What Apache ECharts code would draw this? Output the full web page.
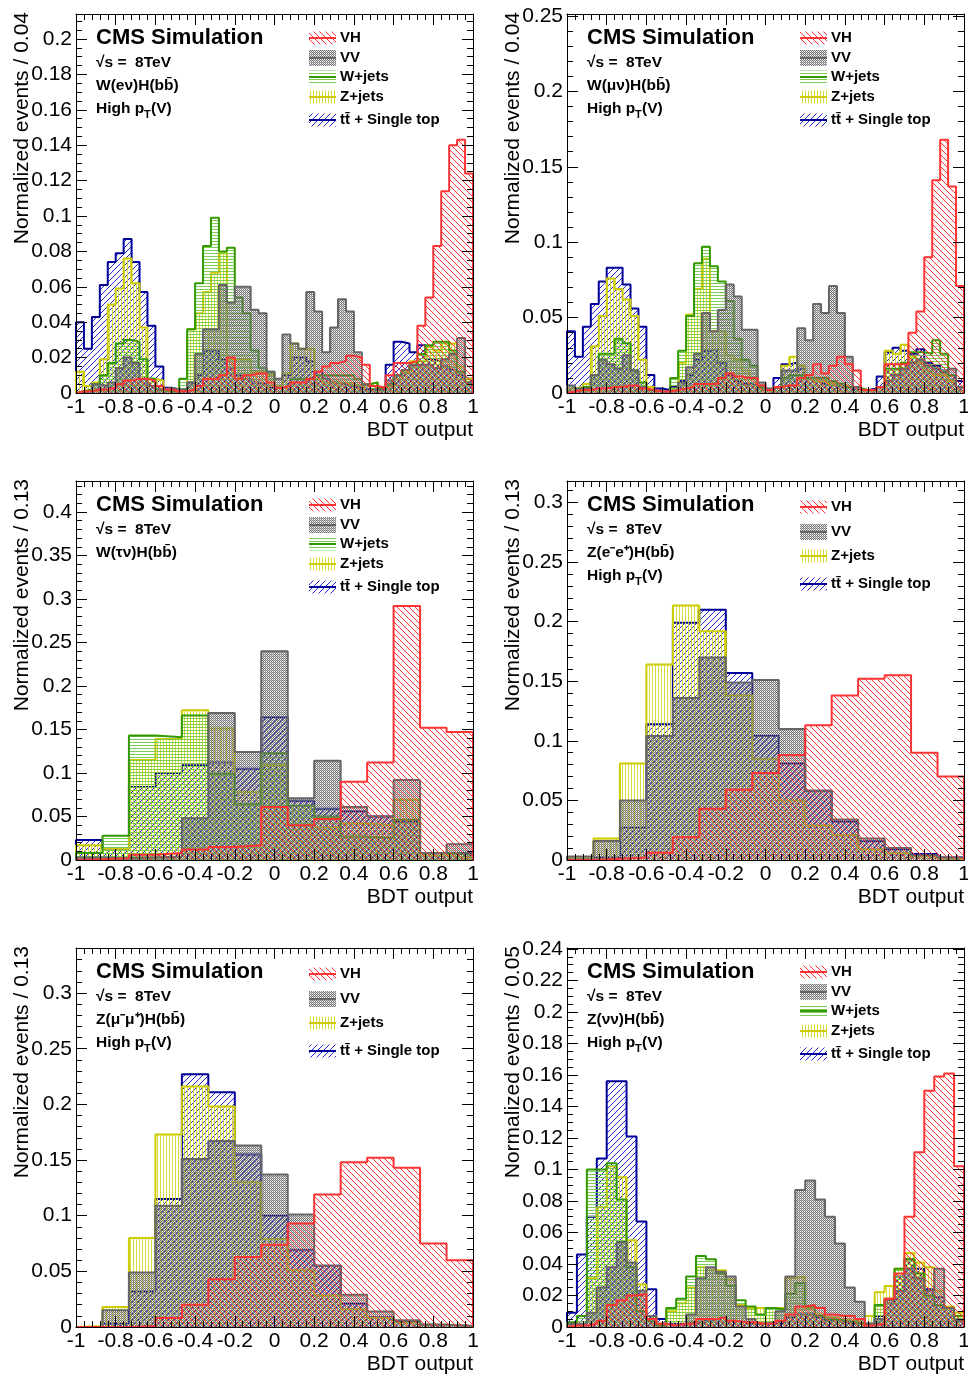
<!DOCTYPE html>
<html><head><meta charset="utf-8">
<script src="https://cdn.jsdelivr.net/npm/echarts@6/dist/echarts.min.js"></script>
<style>html,body{margin:0;padding:0;background:#fff}#c{width:968px;height:1374px}</style>
</head><body><div id="c"></div>
<script>
// ---------------- DATA (normalized events per bin, BDT output -1..1) ----------------
const p1_VH = [0.001,0.001,0.002,0.002,0.003,0.005,0.007,0.008,0.008,0.007,0.004,0.002,0.001,0.001,0.002,0.004,0.008,0.008,0.010,0.020,0.008,0.010,0.011,0.011,0.006,0.003,0.004,0.006,0.006,0.008,0.012,0.015,0.017,0.018,0.021,0.020,0.016,0.004,0.003,0.010,0.017,0.017,0.018,0.038,0.054,0.083,0.114,0.140,0.143,0.124];
const p1_VV = [0.000,0.001,0.005,0.004,0.006,0.014,0.020,0.017,0.008,0.004,0.002,0.003,0.002,0.002,0.006,0.022,0.036,0.036,0.061,0.051,0.060,0.060,0.047,0.045,0.012,0.008,0.033,0.028,0.025,0.057,0.046,0.023,0.037,0.053,0.046,0.023,0.005,0.002,0.002,0.007,0.010,0.013,0.016,0.016,0.016,0.014,0.019,0.022,0.031,0.006];
const p1_Wjets = [0.001,0.002,0.005,0.010,0.017,0.028,0.030,0.029,0.019,0.008,0.002,0.001,0.000,0.008,0.036,0.062,0.083,0.099,0.080,0.082,0.054,0.045,0.024,0.014,0.012,0.003,0.004,0.008,0.008,0.008,0.010,0.010,0.010,0.010,0.010,0.008,0.005,0.006,0.003,0.005,0.010,0.013,0.016,0.022,0.027,0.029,0.029,0.024,0.012,0.006];
const p1_Zjets = [0.012,0.004,0.006,0.019,0.050,0.059,0.076,0.062,0.037,0.008,0.007,0.001,0.000,0.002,0.036,0.045,0.057,0.068,0.079,0.019,0.019,0.019,0.012,0.012,0.010,0.004,0.011,0.028,0.025,0.025,0.008,0.006,0.006,0.006,0.005,0.004,0.005,0.006,0.003,0.004,0.008,0.012,0.018,0.018,0.026,0.024,0.028,0.028,0.015,0.008];
const p1_top = [0.040,0.025,0.043,0.061,0.074,0.079,0.087,0.074,0.057,0.038,0.015,0.003,0.002,0.002,0.006,0.010,0.024,0.024,0.019,0.014,0.010,0.008,0.006,0.005,0.003,0.003,0.010,0.020,0.020,0.018,0.012,0.008,0.006,0.005,0.004,0.003,0.002,0.002,0.002,0.016,0.029,0.028,0.023,0.027,0.019,0.018,0.015,0.013,0.010,0.008];

const p2_VH = [0.001,0.002,0.002,0.003,0.003,0.004,0.004,0.005,0.005,0.003,0.002,0.001,0.001,0.002,0.003,0.004,0.006,0.006,0.006,0.010,0.013,0.011,0.010,0.010,0.005,0.002,0.004,0.005,0.005,0.010,0.012,0.019,0.013,0.018,0.024,0.019,0.015,0.002,0.002,0.004,0.019,0.019,0.019,0.040,0.054,0.090,0.141,0.168,0.137,0.071];
const p2_VV = [0.005,0.003,0.003,0.012,0.022,0.019,0.016,0.025,0.015,0.004,0.002,0.001,0.001,0.002,0.007,0.017,0.026,0.053,0.041,0.055,0.072,0.064,0.042,0.042,0.007,0.003,0.004,0.015,0.015,0.043,0.035,0.059,0.053,0.071,0.053,0.024,0.004,0.002,0.002,0.004,0.008,0.012,0.016,0.020,0.022,0.018,0.016,0.014,0.016,0.004];
const p2_Wjets = [0.001,0.002,0.004,0.012,0.026,0.026,0.036,0.033,0.015,0.007,0.002,0.001,0.000,0.010,0.028,0.051,0.086,0.097,0.084,0.074,0.061,0.036,0.022,0.018,0.004,0.002,0.004,0.010,0.012,0.012,0.010,0.010,0.010,0.008,0.006,0.004,0.003,0.002,0.002,0.004,0.016,0.016,0.020,0.027,0.027,0.026,0.035,0.026,0.012,0.004];
const p2_Zjets = [0.003,0.004,0.006,0.031,0.051,0.076,0.069,0.062,0.051,0.022,0.004,0.001,0.000,0.003,0.020,0.052,0.069,0.089,0.041,0.041,0.025,0.022,0.015,0.010,0.003,0.002,0.004,0.018,0.024,0.018,0.010,0.008,0.008,0.006,0.005,0.004,0.003,0.002,0.002,0.004,0.028,0.026,0.032,0.024,0.020,0.015,0.012,0.012,0.008,0.004];
const p2_top = [0.041,0.024,0.044,0.059,0.074,0.083,0.083,0.072,0.056,0.044,0.012,0.003,0.002,0.004,0.008,0.012,0.022,0.028,0.029,0.020,0.012,0.008,0.006,0.005,0.003,0.002,0.010,0.019,0.020,0.016,0.010,0.008,0.006,0.005,0.004,0.003,0.002,0.002,0.003,0.011,0.027,0.030,0.028,0.026,0.029,0.020,0.018,0.015,0.012,0.008];

const p3_VH = [0.001,0.002,0.006,0.008,0.012,0.015,0.017,0.061,0.040,0.047,0.090,0.112,0.292,0.152,0.147];
const p3_VV = [0.003,0.002,0.003,0.004,0.048,0.169,0.124,0.240,0.071,0.114,0.061,0.050,0.092,0.008,0.018];
const p3_Wjets = [0.008,0.028,0.143,0.141,0.166,0.099,0.064,0.123,0.062,0.050,0.027,0.025,0.046,0.008,0.006];
const p3_Zjets = [0.017,0.013,0.115,0.139,0.172,0.151,0.078,0.109,0.062,0.038,0.042,0.040,0.069,0.005,0.003];
const p3_top = [0.023,0.013,0.084,0.100,0.109,0.112,0.105,0.164,0.068,0.059,0.056,0.050,0.044,0.008,0.008];

const p4_VH = [0.000,0.001,0.002,0.006,0.019,0.043,0.059,0.073,0.088,0.113,0.138,0.152,0.155,0.090,0.070];
const p4_VV = [0.003,0.016,0.050,0.104,0.136,0.170,0.149,0.151,0.110,0.058,0.034,0.018,0.010,0.004,0.002];
const p4_Zjets = [0.002,0.018,0.081,0.164,0.2135,0.192,0.138,0.085,0.050,0.029,0.021,0.009,0.006,0.003,0.001];
const p4_top = [0.002,0.002,0.027,0.114,0.199,0.210,0.157,0.104,0.081,0.058,0.032,0.016,0.009,0.005,0.002];

const p5_VH = [0.000,0.000,0.001,0.008,0.020,0.043,0.063,0.074,0.093,0.119,0.148,0.152,0.143,0.075,0.060];
const p5_VV = [0.000,0.015,0.049,0.109,0.151,0.167,0.163,0.137,0.101,0.055,0.029,0.014,0.006,0.002,0.001];
const p5_Zjets = [0.001,0.018,0.080,0.173,0.216,0.198,0.130,0.079,0.051,0.028,0.016,0.008,0.004,0.002,0.001];
const p5_top = [0.000,0.003,0.032,0.115,0.227,0.211,0.155,0.100,0.069,0.055,0.021,0.009,0.005,0.002,0.001];

const p6_VH = [0.001,0.001,0.002,0.004,0.014,0.017,0.020,0.021,0.005,0.002,0.001,0.002,0.002,0.005,0.005,0.006,0.004,0.003,0.003,0.002,0.002,0.004,0.008,0.013,0.014,0.012,0.008,0.007,0.007,0.005,0.001,0.002,0.018,0.034,0.070,0.111,0.150,0.159,0.161,0.102];
const p6_VV = [0.002,0.002,0.009,0.025,0.038,0.054,0.041,0.023,0.007,0.002,0.001,0.002,0.008,0.031,0.038,0.035,0.032,0.013,0.005,0.002,0.003,0.010,0.032,0.087,0.093,0.081,0.070,0.053,0.025,0.016,0.002,0.005,0.017,0.023,0.037,0.031,0.023,0.037,0.012,0.004];
const p6_Wjets = [0.003,0.007,0.100,0.100,0.104,0.081,0.038,0.010,0.004,0.001,0.012,0.018,0.032,0.045,0.043,0.034,0.026,0.017,0.013,0.008,0.012,0.011,0.021,0.028,0.013,0.007,0.005,0.004,0.003,0.002,0.002,0.014,0.018,0.037,0.043,0.034,0.020,0.014,0.012,0.007];
const p6_Zjets = [0.002,0.002,0.031,0.076,0.102,0.095,0.055,0.027,0.007,0.002,0.010,0.015,0.025,0.038,0.036,0.036,0.030,0.014,0.012,0.012,0.012,0.012,0.031,0.032,0.012,0.008,0.006,0.005,0.004,0.003,0.007,0.022,0.026,0.037,0.047,0.041,0.038,0.023,0.013,0.009];
const p6_top = [0.009,0.046,0.070,0.107,0.156,0.156,0.121,0.067,0.024,0.005,0.002,0.002,0.003,0.004,0.005,0.006,0.004,0.003,0.002,0.002,0.002,0.003,0.006,0.008,0.008,0.006,0.004,0.003,0.002,0.002,0.002,0.007,0.015,0.032,0.043,0.037,0.024,0.019,0.012,0.005];

const channelLabels = ['W(eν)H(bb\u0304)','W(μν)H(bb\u0304)','W(τν)H(bb\u0304)','Z(e\u207Be\u207A)H(bb\u0304)','Z(μ\u207Bμ\u207A)H(bb\u0304)','Z(νν)H(bb\u0304)'];
const yTitles = ['Normalized events / 0.04','Normalized events / 0.04','Normalized events / 0.13','Normalized events / 0.13','Normalized events / 0.13','Normalized events / 0.05'];
const legendNames = {VH:'VH', VV:'VV', W:'W+jets', Z:'Z+jets', T:'tt\u0304 + Single top'};

// ---------------- LAYOUT / STYLE ----------------
const FONT = '"Liberation Sans", Arial, Helvetica, sans-serif';
const PANELS = [
  {L:76, T:14, max:0.2141, major:0.02, minor:0.005, highpt:true, s:{T:p1_top,Z:p1_Zjets,W:p1_Wjets,VV:p1_VV,VH:p1_VH}},
  {L:567,T:14, max:0.2513, major:0.05, minor:0.01, highpt:true, s:{T:p2_top,Z:p2_Zjets,W:p2_Wjets,VV:p2_VV,VH:p2_VH}},
  {L:76, T:481,max:0.4356, major:0.05, minor:0.01, highpt:false,s:{T:p3_top,Z:p3_Zjets,W:p3_Wjets,VV:p3_VV,VH:p3_VH}},
  {L:567,T:481,max:0.318,  major:0.05, minor:0.01, highpt:true, s:{T:p4_top,Z:p4_Zjets,VV:p4_VV,VH:p4_VH}},
  {L:76, T:948,max:0.3405, major:0.05, minor:0.01, highpt:true, s:{T:p5_top,Z:p5_Zjets,VV:p5_VV,VH:p5_VH}},
  {L:567,T:948,max:0.2406, major:0.02, minor:0.005, highpt:true, s:{T:p6_top,Z:p6_Zjets,W:p6_Wjets,VV:p6_VV,VH:p6_VH}}
];
const W = 397, H = 379;
const LINE = {VH:'#ff3333', VV:'#666666', W:'#339900', Z:'#cccc00', T:'#000099'};

function mkCanvas(w,h){const c=document.createElement('canvas');c.width=w;c.height=h;return c;}
function diag(color, s, dir){
  const c=mkCanvas(s,s), g=c.getContext('2d');
  g.strokeStyle=color; g.lineWidth=1;
  for (const k of [-s,0,s]) {
    g.beginPath();
    if (dir>0){ g.moveTo(k,0); g.lineTo(k+s,s); } else { g.moveTo(k,s); g.lineTo(k+s,0); }
    g.stroke();
  }
  return c;
}
function PAT(){
  const pats = {};
  pats.VH = diag('#ff3030', 6, 1);
  pats.T = diag('#2626d8', 6, -1);
  let c=mkCanvas(4,3), g=c.getContext('2d'); g.fillStyle='rgba(110,200,70,0.9)'; g.fillRect(0,1,4,1); pats.W=c;
  c=mkCanvas(3,4); g=c.getContext('2d'); g.fillStyle='rgba(215,215,40,0.9)'; g.fillRect(1,0,1,4); pats.Z=c;
  c=mkCanvas(2,2); g=c.getContext('2d');
  g.fillStyle='rgba(105,105,105,0.9)'; g.fillRect(0,0,1,1); g.fillRect(1,1,1,1);
  g.fillStyle='rgba(150,150,150,0.55)'; g.fillRect(1,0,1,1);
  pats.VV=c;
  const out={}; for (const k in pats) out[k]={image:pats[k], repeat:'repeat'};
  return out;
}
const FILL = PAT();

function histData(vals){
  const n=vals.length, w=2/n, pts=[[-1,0]];
  for (let i=0;i<n;i++) pts.push([-1+i*w, vals[i]]);
  pts.push([1, vals[n-1]]); pts.push([1,0]);
  return pts;
}
function fmt(step){
  return function(v){
    const r=v/step; if (Math.abs(r-Math.round(r))>1e-6) return '';
    return String(parseFloat(v.toFixed(4)));
  };
}

const option = {animation:false, grid:[], xAxis:[], yAxis:[], series:[], graphic:{elements:[]}};
const lbl = (show, step) => ({show, fontSize:21, fontFamily:FONT, color:'#000', margin:4, formatter:fmt(step), showMinLabel:true, showMaxLabel:true});

PANELS.forEach((P,p)=>{
  option.grid.push({left:P.L, top:P.T, width:W, height:H, containLabel:false, outerBoundsMode:'none'});
  const mkX=(pos,interval,len,line,label)=>({gridIndex:p,type:'value',min:-1,max:1,interval,position:pos,z:10,
    axisLine:{show:line,onZero:false,lineStyle:{color:'#000',width:1}},
    axisTick:{show:true,inside:true,length:len,lineStyle:{color:'#000',width:1}},
    axisLabel:lbl(label,0.2), splitLine:{show:false}, minorTick:{show:false}});
  const mkY=(pos,interval,len,line,label)=>({gridIndex:p,type:'value',min:0,max:P.max,interval,position:pos,z:10,
    axisLine:{show:line,onZero:false,lineStyle:{color:'#000',width:1}},
    axisTick:{show:true,inside:true,length:len,lineStyle:{color:'#000',width:1}},
    axisLabel:lbl(label,P.major), splitLine:{show:false}, minorTick:{show:false}});
  option.xAxis.push(mkX('bottom',0.2,11,true,true), mkX('bottom',0.04,6,false,false), mkX('top',0.2,11,true,false), mkX('top',0.04,6,false,false));
  option.yAxis.push(mkY('left',P.major,11,true,true), mkY('left',P.minor,6,false,false), mkY('right',P.major,11,true,false), mkY('right',P.minor,6,false,false));

  const order=['T','Z','W','VV','VH'];
  order.forEach((k,zi)=>{
    if(!P.s[k]) return;
    option.series.push({type:'line', name:legendNames[k], xAxisIndex:4*p, yAxisIndex:4*p, data:histData(P.s[k]),
      step:'end', symbol:'none', showSymbol:false, silent:true, z:2+zi,
      lineStyle:{color:LINE[k], width:2}, itemStyle:{color:LINE[k]},
      areaStyle:{color:FILL[k], opacity:1}, emphasis:{disabled:true}});
  });

  const E=option.graphic.elements;
  const txt=(x,y,text,font,extra)=>Object.assign({type:'text',x,y,z:100,silent:true,style:{text,font,fill:'#000',align:'left',verticalAlign:'middle',textAlign:'left',textVerticalAlign:'middle'}},extra||{});
  const tx=P.L+20;
  E.push(txt(tx,P.T+24,'CMS Simulation','bold 22px '+FONT));
  E.push(txt(tx,P.T+49,'\u221As =  8TeV','bold 15.5px '+FONT));
  E.push(txt(tx,P.T+72,channelLabels[p],'bold 15.5px '+FONT));
  if (P.highpt){
    E.push(txt(tx,P.T+95,'High p','bold 15.5px '+FONT));
    E.push(txt(tx+48,P.T+101,'T','bold 11px '+FONT));
    E.push(txt(tx+55,P.T+95,'(V)','bold 15.5px '+FONT));
  }
  // legend
  const keys = P.s.W ? ['VH','VV','W','Z','T'] : ['VH','VV','Z','T'];
  const ys = P.s.W ? [24,44,63,83,106] : [26,51,75,103];
  keys.forEach((k,i)=>{
    const cy=P.T+ys[i], sx=P.L+233, hh = (k==='VV') ? 16 : 13;
    E.push({type:'rect',z:100,silent:true,shape:{x:sx,y:cy-hh/2,width:27,height:hh},style:{fill:FILL[k]}});
    E.push({type:'line',z:101,silent:true,shape:{x1:sx,y1:cy,x2:sx+27,y2:cy},style:{stroke:LINE[k],lineWidth:2}});
    E.push(txt(P.L+264,cy,legendNames[k],'bold 15px '+FONT));
  });
  // axis titles
  E.push({type:'text',x:P.L-54,y:P.T-2,rotation:Math.PI/2,z:100,silent:true,style:{text:yTitles[p],font:'21px '+FONT,fill:'#000',align:'right',verticalAlign:'middle',textAlign:'right',textVerticalAlign:'middle'}});
  E.push({type:'text',x:P.L+W,y:P.T+H+37,z:100,silent:true,style:{text:'BDT output',font:'21px '+FONT,fill:'#000',align:'right',verticalAlign:'middle',textAlign:'right',textVerticalAlign:'middle'}});
});

const chart = echarts.init(document.getElementById('c'), null, {renderer:'canvas'});
chart.setOption(option);
</script>
</body></html>
